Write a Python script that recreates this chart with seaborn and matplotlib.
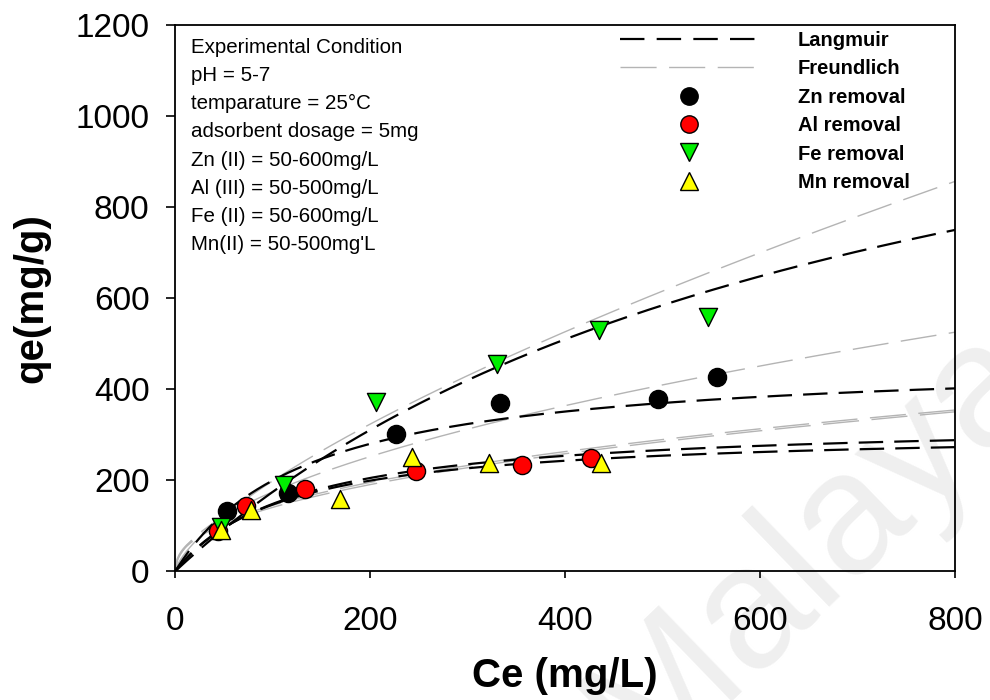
import numpy as np
import pandas as pd
import matplotlib
matplotlib.use("Agg")
import matplotlib.pyplot as plt
import seaborn as sns
from matplotlib.lines import Line2D

# ---- data ----
zn_ce = [53, 116, 226, 333, 495, 556]
zn_qe = [132, 171, 301, 369, 378, 426]
al_ce = [44, 73, 133, 247, 356, 426]
al_qe = [88, 143, 180, 220, 233, 248]
fe_ce = [47, 112, 206, 330, 435, 546]
fe_qe = [97, 189, 371, 455, 530, 558]
mn_ce = [47, 78, 169, 243, 322, 437]
mn_qe = [90, 134, 158, 251, 237, 237]

# model parameters (Langmuir qm, KL ; Freundlich Kf, 1/n) for Zn, Al, Fe, Mn
lang_qm = [470, 333, 1420, 311]
lang_kl = [0.00737, 0.0080, 0.0014, 0.0089]
freu_kf = [15.2, 20.0, 7.8, 18.5]
freu_n_inv = [0.53, 0.43, 0.703, 0.44]

x_ticks = [0, 200, 400, 600, 800]
y_ticks = [0, 200, 400, 600, 800, 1000, 1200]

conditions = ["Experimental Condition", "pH = 5-7", "temparature = 25°C",
              "adsorbent dosage = 5mg", "Zn (II) = 50-600mg/L",
              "Al (III) = 50-500mg/L", "Fe (II) = 50-600mg/L",
              "Mn(II) = 50-500mg'L"]
legend_labels = ["Langmuir", "Freundlich", "Zn removal", "Al removal",
                 "Fe removal", "Mn removal"]

sns.set_style("ticks")
plt.rcParams['font.family'] = ['Liberation Sans', 'DejaVu Sans']
for k in ['text.color', 'axes.labelcolor', 'xtick.color', 'ytick.color', 'axes.edgecolor']:
    plt.rcParams[k] = 'black'

fig = plt.figure(figsize=(9.9, 7.0), dpi=100)
ax = fig.add_axes([0.177, 0.184, 0.788, 0.780])
ax.patch.set_alpha(0)

# watermark
ax.text(0.823, 0.222, "Malaya", fontsize=125, color='#efefef', rotation=44,
        ha='center', va='center', transform=fig.transFigure, zorder=0,
        clip_on=False)

LANG_LS = (0, (11, 5))
FREU_LS = (0, (26, 9))

ce_grid = np.linspace(0, 800, 400)
for i in range(4):
    lang = lang_qm[i] * lang_kl[i] * ce_grid / (1 + lang_kl[i] * ce_grid)
    freu = freu_kf[i] * ce_grid ** freu_n_inv[i]
    sns.lineplot(x=ce_grid, y=freu, ax=ax, color='#b4b4b4', lw=1.0,
                 linestyle=FREU_LS, zorder=2, legend=False)
    sns.lineplot(x=ce_grid, y=lang, ax=ax, color='black', lw=1.6,
                 linestyle=LANG_LS, zorder=3, legend=False)

pts = [(zn_ce, zn_qe, 'o', 'black'),
       (al_ce, al_qe, 'o', '#ff0000'),
       (fe_ce, fe_qe, 'v', '#00ee00'),
       (mn_ce, mn_qe, '^', '#ffff00')]
for ce, qe, m, c in pts:
    sns.scatterplot(x=ce, y=qe, ax=ax, marker=m, color=c, s=170,
                    edgecolor='black', linewidth=1.0, zorder=5, legend=False)

ax.set_xlim(0, 800)
ax.set_ylim(0, 1200)
ax.set_xticks(x_ticks)
ax.set_yticks(y_ticks)
ax.tick_params(axis='x', labelsize=24, direction='out', length=5, width=1.2, pad=20)
ax.tick_params(axis='y', labelsize=24, direction='out', length=6.5, width=1.2, pad=12)
for s in ax.spines.values():
    s.set_visible(True)
    s.set_linewidth(1.3)
ax.set_xlabel("Ce (mg/L)", fontsize=29, fontweight='bold')
ax.set_ylabel("qe(mg/g)", fontsize=29, fontweight='bold')
ax.xaxis.set_label_coords(0.5, -0.158)
ax.yaxis.set_label_coords(-0.160, 0.5)

for j, t in enumerate(conditions):
    ax.text(0.0205, 0.959 - j * 0.0515, t, transform=ax.transAxes,
            fontsize=14.8, va='center', ha='left')

# legend
handles = [Line2D([], [], color='black', lw=1.6, linestyle=(0, (11, 5.5))),
           Line2D([], [], color='#b4b4b4', lw=1.0, linestyle=(0, (26, 9))),
           Line2D([], [], marker='o', color='black', ls='', ms=12.5, mec='black'),
           Line2D([], [], marker='o', color='#ff0000', ls='', ms=12.5, mec='black'),
           Line2D([], [], marker='v', color='#00ee00', ls='', ms=12.5, mec='black'),
           Line2D([], [], marker='^', color='#ffff00', ls='', ms=12.5, mec='black')]
leg = ax.legend(handles, legend_labels, loc='upper left',
                bbox_to_anchor=(0.5705, 0.990), borderaxespad=0, borderpad=0,
                frameon=False, handlelength=6.8, handletextpad=2.0,
                labelspacing=0.47, prop={'weight': 'bold', 'size': 14.5})

fig.savefig("out.png", dpi=100)
